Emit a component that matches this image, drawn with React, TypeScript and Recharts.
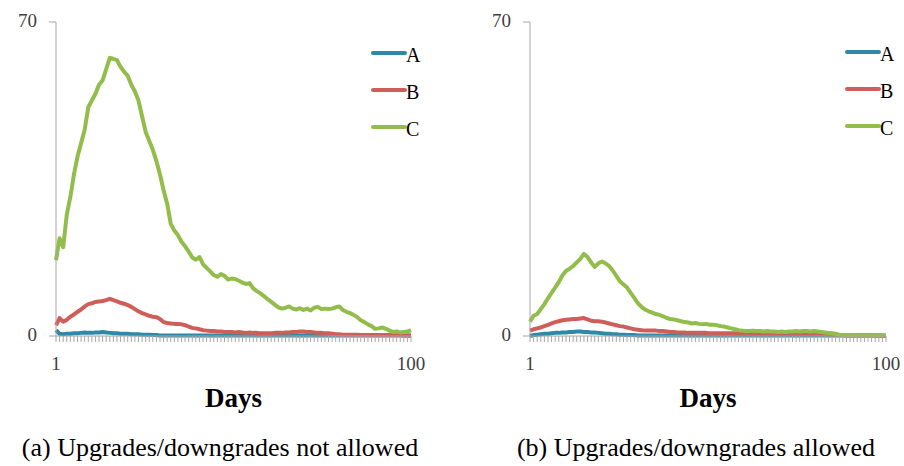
import React from 'react';
import { LineChart, Line, XAxis, YAxis, Legend } from 'recharts';

// x axis: days 1..100
const days: number[] = Array.from({ length: 100 }, (_, i) => i + 1);
const xTickLabels = [1, 100];
const yTicks = [0, 70];

const seriesNames = ['A', 'B', 'C'];
const seriesColors = ['#2E88A6', '#CF5E5B', '#92BD4B'];

// (a) upgrades/downgrades not allowed
const notAllowedA = [
  1.3, 0.5, 0.4, 0.5, 0.5, 0.6, 0.6, 0.7, 0.8, 0.7,
  0.7, 0.8, 0.8, 0.9, 0.8, 0.7, 0.6, 0.6, 0.5, 0.5,
  0.5, 0.4, 0.4, 0.4, 0.3, 0.3, 0.3, 0.2, 0.2, 0.1,
  0.1, 0.1, 0.1, 0.1, 0.1, 0.1, 0.1, 0.1, 0.1, 0.1,
  0.1, 0.1, 0.1, 0.1, 0.1, 0.1, 0.1, 0.1, 0.1, 0.1,
  0.1, 0.1, 0.1, 0.1, 0.1, 0.1, 0.1, 0.1, 0.1, 0.1,
  0.1, 0.1, 0.1, 0.1, 0.1, 0.1, 0.1, 0.1, 0.1, 0.1,
  0.1, 0.1, 0.1, 0.1, 0.1, 0.1, 0.1, 0.1, 0.1, 0.1,
  0.1, 0.1, 0.1, 0.1, 0.1, 0.1, 0.1, 0.1, 0.1, 0.1,
  0.1, 0.1, 0.1, 0.1, 0.1, 0.1, 0.1, 0.1, 0.1, 0.1,
];
const notAllowedB = [
  2.4, 4.0, 3.2, 3.6, 4.3, 4.8, 5.4, 5.9, 6.6, 7.1,
  7.3, 7.6, 7.7, 7.8, 8.0, 8.3, 8.0, 7.7, 7.4, 7.2,
  6.9, 6.5, 6.0, 5.5, 5.1, 4.8, 4.5, 4.3, 4.2, 3.8,
  3.1, 2.9, 2.8, 2.7, 2.7, 2.6, 2.4, 2.1, 1.8, 1.7,
  1.5, 1.3, 1.2, 1.1, 1.1, 1.0, 1.0, 0.9, 0.9, 0.9,
  0.8, 0.9, 0.8, 0.7, 0.8, 0.7, 0.7, 0.6, 0.6, 0.6,
  0.6, 0.7, 0.7, 0.7, 0.8, 0.8, 0.9, 0.9, 1.0, 1.0,
  0.9, 0.9, 0.8, 0.7, 0.7, 0.6, 0.6, 0.5, 0.4, 0.4,
  0.3, 0.3, 0.3, 0.3, 0.3, 0.2, 0.2, 0.2, 0.2, 0.2,
  0.2, 0.2, 0.2, 0.2, 0.2, 0.2, 0.2, 0.1, 0.1, 0.1,
];
const notAllowedC = [
  16.9, 21.8, 19.8, 27.0, 31.0, 36.0, 40.0, 43.0, 46.0, 51.0,
  52.5, 54.0, 56.0, 57.0, 59.5, 62.0, 61.8, 61.5, 60.0, 58.9,
  58.0, 56.0, 54.5, 52.5, 49.0, 45.5, 43.5, 41.5, 39.0, 36.0,
  32.5, 29.5, 25.0, 23.5, 22.5, 21.0, 20.0, 18.8, 17.5, 17.0,
  17.6, 16.0, 15.2, 14.4, 13.6, 13.2, 13.8, 13.4, 12.6, 12.8,
  12.7, 12.3, 11.9, 11.6, 11.8, 10.6, 10.0, 9.5, 8.9, 8.2,
  7.6, 7.0, 6.4, 6.1, 6.3, 6.6, 6.1, 5.9, 6.2, 5.8,
  6.1, 5.7, 6.3, 6.5, 6.0, 6.1, 6.0, 6.1, 6.4, 6.6,
  5.8, 5.4, 5.1, 4.7, 4.2, 3.5, 3.1, 2.6, 2.2, 1.6,
  1.7, 1.9, 1.6, 1.2, 0.9, 1.0, 0.8, 0.9, 1.0, 1.3,
];

// (b) upgrades/downgrades allowed
const allowedA = [
  0.0, 0.2, 0.3, 0.4, 0.5, 0.5, 0.6, 0.7, 0.7, 0.8,
  0.8, 0.9, 0.9, 1.0, 1.0, 0.9, 0.9, 0.8, 0.8, 0.7,
  0.6, 0.5, 0.5, 0.4, 0.4, 0.3, 0.3, 0.2, 0.2, 0.2,
  0.1, 0.1, 0.1, 0.1, 0.1, 0.1, 0.1, 0.1, 0.1, 0.1,
  0.1, 0.1, 0.1, 0.1, 0.1, 0.1, 0.1, 0.1, 0.1, 0.1,
  0.1, 0.1, 0.1, 0.1, 0.1, 0.1, 0.1, 0.1, 0.1, 0.1,
  0.1, 0.1, 0.1, 0.1, 0.1, 0.1, 0.1, 0.1, 0.1, 0.1,
  0.1, 0.1, 0.1, 0.1, 0.1, 0.1, 0.1, 0.1, 0.1, 0.1,
  0.1, 0.1, 0.1, 0.1, 0.1, 0.1, 0.1, 0.1, 0.1, 0.1,
  0.1, 0.1, 0.1, 0.1, 0.1, 0.1, 0.1, 0.1, 0.1, 0.1,
];
const allowedB = [
  1.2, 1.5, 1.7, 1.9, 2.2, 2.5, 2.8, 3.1, 3.3, 3.5,
  3.6, 3.7, 3.8, 3.8, 3.9, 4.0, 3.7, 3.4, 3.3, 3.3,
  3.2, 3.0, 2.8, 2.6, 2.4, 2.2, 2.1, 1.9, 1.7, 1.5,
  1.4, 1.3, 1.2, 1.2, 1.2, 1.2, 1.1, 1.1, 1.0, 0.9,
  0.9, 0.8, 0.8, 0.8, 0.7, 0.7, 0.7, 0.7, 0.7, 0.7,
  0.6, 0.6, 0.6, 0.6, 0.6, 0.6, 0.6, 0.6, 0.6, 0.6,
  0.6, 0.6, 0.6, 0.6, 0.6, 0.6, 0.6, 0.6, 0.6, 0.6,
  0.6, 0.6, 0.6, 0.6, 0.6, 0.6, 0.6, 0.6, 0.6, 0.5,
  0.5, 0.5, 0.4, 0.4, 0.3, 0.3, 0.2, 0.2, 0.1, 0.1,
  0.1, 0.1, 0.1, 0.1, 0.1, 0.1, 0.1, 0.1, 0.0, 0.0,
];
const allowedC = [
  3.2, 4.5, 4.9, 6.0, 7.1, 8.4, 9.6, 10.8, 12.0, 13.5,
  14.5, 15.0, 15.6, 16.4, 17.2, 18.3, 17.6, 16.4, 15.4, 16.2,
  16.6, 16.2, 15.6, 14.6, 13.4, 12.2, 11.5, 10.8, 9.6, 8.5,
  7.3, 6.5, 5.9, 5.5, 5.2, 4.9, 4.7, 4.4, 4.0, 3.8,
  3.7, 3.5, 3.3, 3.1, 3.0, 2.8, 2.9, 2.7, 2.6, 2.7,
  2.5, 2.5, 2.4, 2.2, 2.1, 1.9, 1.7, 1.5, 1.3, 1.2,
  1.1, 1.1, 1.2, 1.1, 1.1, 1.0, 1.1, 1.0, 1.0, 0.9,
  1.0, 0.9, 1.0, 1.0, 1.1, 1.0, 1.1, 1.1, 1.0, 1.1,
  1.0, 0.9, 0.8, 0.7, 0.6, 0.5, 0.3, 0.2, 0.2, 0.1,
  0.1, 0.1, 0.1, 0.1, 0.1, 0.1, 0.1, 0.1, 0.1, 0.1,
];

const FONT = '"Liberation Serif", "Times New Roman", serif';
const AXIS_GREY = '#a6a6a6';

const buildRows = (a: number[], b: number[], c: number[]) =>
  days.map((day, i) => ({ day, A: a[i], B: b[i], C: c[i] }));

const XTick = (props: any) => {
  const { x, y, payload } = props;
  if (!xTickLabels.includes(payload.value)) return <g />;
  return (
    <text x={x} y={y + 28} textAnchor="middle" fontFamily={FONT} fontSize={19} fill="#404040">
      {payload.value}
    </text>
  );
};

const YTick = (props: any) => {
  const { x, y, payload } = props;
  return (
    <text x={x} y={y + 5} textAnchor="end" fontFamily={FONT} fontSize={19} fill="#404040">
      {payload.value}
    </text>
  );
};

const LegendBox = (props: any) => {
  const payload = props.payload || [];
  return (
    <svg width={70} height={110} style={{ overflow: 'visible' }}>
      {payload.map((p: any, i: number) => (
        <g key={p.value} transform={`translate(0, ${13 + i * 37})`}>
          <line x1={3} y1={0} x2={35} y2={0} stroke={p.color} strokeWidth={4} strokeLinecap="round" />
          <text x={36} y={8.5} fontFamily={FONT} fontSize={20} fill="#000">
            {p.value}
          </text>
        </g>
      ))}
    </svg>
  );
};

interface PanelProps {
  left: number;
  width: number;
  marginRight: number;
  legendLeft: number;
  legendTop: number;
  data: { day: number; A: number; B: number; C: number }[];
}

function Panel({ left, width, marginRight, legendLeft, legendTop, data }: PanelProps) {
  return (
    <div style={{ position: 'absolute', left, top: 0, width, height: 466 }}>
      <LineChart
        width={width}
        height={466}
        data={data}
        margin={{ top: 22, right: marginRight, bottom: 100, left: 0 }}
      >
        <XAxis
          dataKey="day"
          type="number"
          domain={[1, 100]}
          ticks={days}
          interval={0}
          height={30}
          stroke={AXIS_GREY}
          tickSize={6}
          tickMargin={0}
          tick={<XTick />}
          label={{
            value: 'Days',
            position: 'bottom',
            offset: 22,
            style: { fontFamily: FONT, fontSize: 27, fontWeight: 'bold', fill: '#000' },
          }}
        />
        <YAxis
          type="number"
          domain={[0, 70]}
          ticks={yTicks}
          width={56}
          stroke={AXIS_GREY}
          tickSize={7}
          tickMargin={12}
          tick={<YTick />}
        />
        <Legend
          layout="vertical"
          align="right"
          verticalAlign="top"
          content={<LegendBox />}
          wrapperStyle={{ left: legendLeft, top: legendTop, width: 0, height: 0, overflow: 'visible' }}
        />
        {seriesNames.map((name, i) => (
          <Line
            key={name}
            type="linear"
            dataKey={name}
            name={name}
            stroke={seriesColors[i]}
            strokeWidth={4}
            strokeLinejoin="round"
            dot={false}
            activeDot={false}
            isAnimationActive={false}
          />
        ))}
      </LineChart>
    </div>
  );
}

const captionStyle: React.CSSProperties = {
  position: 'absolute',
  top: 435,
  width: 500,
  textAlign: 'center',
  fontFamily: FONT,
  fontSize: 26,
  lineHeight: 1,
  color: '#000',
  whiteSpace: 'nowrap',
};

export default function App() {
  return (
    <div style={{ position: 'absolute', left: 0, top: 0, width: 904, height: 466, background: '#fff', overflow: 'hidden' }}>
      <Panel
        left={0}
        width={450}
        marginRight={39}
        legendLeft={370}
        legendTop={40}
        data={buildRows(notAllowedA, notAllowedB, notAllowedC)}
      />
      <Panel
        left={474}
        width={430}
        marginRight={18}
        legendLeft={370}
        legendTop={39}
        data={buildRows(allowedA, allowedB, allowedC)}
      />
      <div style={{ ...captionStyle, left: 220 - 250 }}>(a) Upgrades/downgrades not allowed</div>
      <div style={{ ...captionStyle, left: 696 - 250 }}>(b) Upgrades/downgrades allowed</div>
    </div>
  );
}
